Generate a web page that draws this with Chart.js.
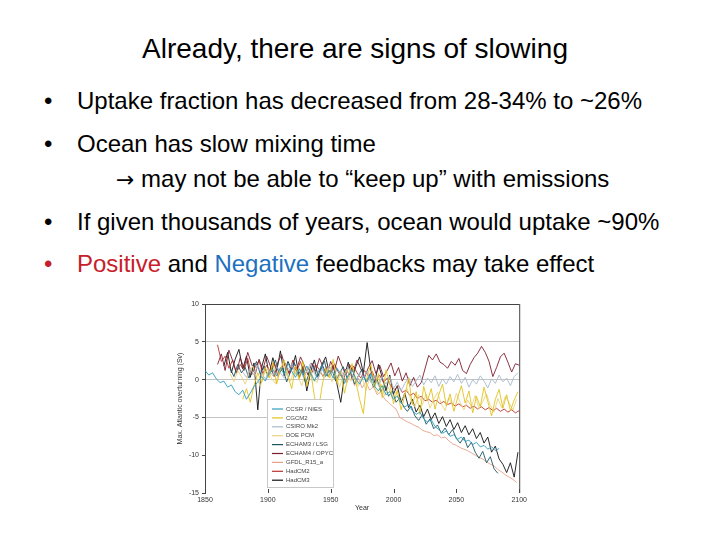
<!DOCTYPE html>
<html>
<head>
<meta charset="utf-8">
<script src="https://cdn.jsdelivr.net/npm/chart.js@4.4.1/dist/chart.umd.min.js"></script>
<style>
  body { margin: 0; width: 720px; height: 540px; background: #fff; position: relative; overflow: hidden;
         font-family: "Liberation Sans", Arial, sans-serif; color: #000; }
  .t { position: absolute; white-space: nowrap; line-height: 1; }
  #title { font-size: 28px; top: 35px; left: 0; width: 710px; text-align: center; }
  .b { font-size: 24px; }
  .arrow { font-family: "DejaVu Sans", sans-serif; font-size: 22px; }
  #chartBox { position: absolute; left: 150px; top: 294px; }
</style>
</head>
<body>
<div class="t" id="title">Already, there are signs of slowing</div>

<div class="t b" style="left:44px; top:89px">•</div>
<div class="t b" style="left:77px; top:89px">Uptake fraction has decreased from 28-34% to ~26%</div>

<div class="t b" style="left:44px; top:132px">•</div>
<div class="t b" style="left:77px; top:132px">Ocean has slow mixing time</div>
<div class="t b" style="left:116px; top:167px"><span class="arrow">→</span> may not be able to “keep up” with emissions</div>

<div class="t b" style="left:44px; top:210px">•</div>
<div class="t b" style="left:77px; top:210px">If given thousands of years, ocean would uptake ~90%</div>

<div class="t b" style="left:44px; top:252px; color:#c8202a">•</div>
<div class="t b" style="left:77px; top:252px"><span style="color:#c8202a">Positive</span> and <span style="color:#2070c0">Negative</span> feedbacks may take effect</div>

<div id="chartBox"><canvas id="thc" width="380" height="226"></canvas></div>

<script>
// model runs, one value every 3 years from each start year (Sv anomaly)
const modelNames = ['CCSR / NIES', 'CGCM2', 'CSIRO Mk2', 'DOE PCM', 'ECHAM3 / LSG',
                    'ECHAM4 / OPYC', 'GFDL_R15_a', 'HadCM2', 'HadCM3'];
const startYears = [1850, 1880, 1880, 1870, 1870, 1860, 1960, 1860, 1865];
const yearStep = 3;

const ccsrNies = [1.2, 0.6, 0.9, 0.1, -0.4, -0.2, -1.0, -0.7, -1.6, -2.0, -1.4, -2.6, -1.8, -0.9, -0.3, 0.4,
  -0.2, 0.8, 1.3, 0.5, 1.6, 0.7, 2.2, 1.1, 0.3, 1.4, 0.6, 1.8, 0.9, -0.2, 1.0, 1.9, 0.4, 1.2, 0.2, 1.5,
  0.8, -0.5, 0.6, 1.3, 0.1, -0.6, 0.4, -0.3, 0.8, -0.9, -1.5, -0.8, -2.0, -1.6, -2.6, -2.2, -3.1, -3.6,
  -3.3, -4.1, -4.6, -4.3, -5.2, -5.6, -5.3, -6.2, -6.6, -7.1, -6.8, -7.5, -7.3, -7.9, -7.6, -8.2, -8.0,
  -8.6, -8.3, -8.9, -8.7, -9.2, -8.9, -9.4, -9.1];
const cgcm2 = [-2.6, -1.2, -3.0, -0.8, 0.9, -0.4, 1.6, 0.2, 2.3, -0.6, 1.4, 2.6, 0.5, -1.2, 1.8, 0.1, 2.4,
  -0.9, 1.2, -2.2, -4.4, -1.0, 1.5, 0.2, 2.7, -0.5, 1.1, -1.8, 0.6, 2.1, -0.3, -2.6, -4.5, 0.4, 2.0, -1.1,
  0.8, -2.4, 1.3, -0.6, -3.2, -1.4, -4.0, -2.1, 0.2, -3.3, -1.6, -4.6, -0.9, -2.8, -1.2, -3.9, -2.0, -0.6,
  -3.5, -1.9, -4.2, -2.4, -0.8, -3.1, -1.5, -4.4, -2.2, -3.6, -1.0, -2.9, -4.8, -2.6, -1.3, -3.8, -2.0,
  -4.1, -2.7, -1.6];
const csiroMk2 = [1.0, 0.3, 1.4, 0.6, 1.9, 0.8, 0.1, 1.2, 0.5, 1.7, 0.9, 0.2, 1.3, 2.0, 0.7, 1.5, 0.4, 1.1,
  2.2, 0.8, 0.1, 1.4, 0.6, 1.8, 0.9, 0.3, 1.2, 0.5, 1.6, 0.7, -0.2, 0.9, 0.2, 1.1, -0.4, 0.5, -0.8, 0.3,
  -0.6, 0.4, -1.2, -0.3, -1.5, -0.5, 0.3, -0.9, -0.2, 0.6, -0.7, 0.2, -0.4, 0.5, -0.9, 0.1, -0.6, 0.4,
  -0.3, 0.7, -0.5, 0.3, -1.0, 0.0, -0.6, 0.5, -0.2, -1.1, 0.1, -0.5, 0.6, -0.3, 0.2, -0.8, 0.4, 0.9];
const doePcm = [0.8, -0.3, 1.2, 0.4, -0.6, 0.9, 1.8, 0.2, -0.9, 0.7, 1.5, 0.1, -0.5, 1.0, 2.1, 0.6, -0.2,
  1.3, 0.4, -0.8, 0.9, 1.7, 0.3, -0.4, 1.1, 0.2, 1.6, -0.3, 0.8, -1.0, 0.5, 1.4, -0.2, 0.7, -0.9, 0.3,
  -1.4, 0.1, -0.7, -1.8, -0.6, -2.1, -1.0, -2.5, -1.6, -3.0, -2.2, -1.2, -2.8, -3.6, -2.0, -3.3, -1.9,
  -3.8, -2.6, -1.7, -3.2, -4.1, -2.4, -3.5, -1.8, -3.0, -4.0, -2.7, -3.6, -2.1, -3.9, -2.9, -1.9, -3.4,
  -4.3, -2.5, -3.7, -2.2, -3.1, -4.0, -2.6];
const echam3Lsg = [1.5, 0.4, 2.0, 0.9, 1.6, 0.2, 1.3, 2.4, 0.7, 1.8, 0.5, 1.1, 2.6, 0.8, 1.5, -0.3, 1.0,
  2.2, 0.6, 1.4, -0.5, 0.9, 1.9, 0.3, 1.2, 2.5, 0.4, 1.3, -0.2, 0.8, 1.7, 0.2, 1.0, -0.6, 0.5, 1.4, -0.3,
  0.6, -1.0, 0.0, -1.6, -0.7, -2.2, -1.5, -3.0, -2.4, -3.6, -4.2, -3.5, -4.8, -5.4, -4.6, -5.9, -5.2,
  -6.5, -6.0, -7.1, -6.4, -7.3, -6.6, -7.8, -8.4, -7.6, -9.0, -8.3, -9.6, -10.4, -9.5, -11.0, -10.2,
  -11.8, -12.4];
const echam4Opyc = [2.0, 3.4, 1.2, 3.9, 2.5, 0.8, 2.9, 1.5, 3.6, 2.1, 0.7, 2.7, 1.3, 3.1, 1.8, 0.4, 2.3,
  3.3, 1.6, 0.9, 2.6, 1.4, 3.0, 1.9, 0.6, 2.2, 1.1, 2.8, 1.7, 0.5, 2.4, 1.2, 3.1, 1.8, 0.6, 2.0, 1.0, 2.6,
  1.4, 0.3, 1.6, 2.5, 0.8, 1.9, 0.4, 1.2, 2.2, 0.5, 1.6, -0.2, 0.9, -0.8, 0.3, -1.0, -0.4, 1.4, 3.2, 2.6,
  3.4, 2.3, 2.0, 1.5, 2.4, 1.9, 2.8, 1.2, 0.8, 2.0, 2.9, 3.5, 4.4, 3.6, 2.4, 0.4, 1.6, 3.0, 3.5, 2.3, 1.0,
  2.1, 1.9];
const gfdlR15 = [0.6, -0.4, 0.9, -0.8, 0.2, -1.1, -0.3, -1.4, -0.9, -2.0, -1.6, -2.6, -3.0, -3.5, -3.9,
  -5.0, -5.3, -5.6, -5.8, -6.1, -6.3, -6.7, -6.9, -7.0, -7.4, -7.3, -7.7, -7.6, -8.1, -8.5, -8.7, -9.0,
  -9.2, -9.4, -9.7, -10.0, -10.3, -10.5, -10.9, -11.2, -11.4, -11.9, -12.2, -12.6, -12.9, -13.2, -13.6];
const hadCm2 = [4.6, 2.4, 3.1, 1.5, 2.6, 0.9, 2.0, 1.2, 2.8, 0.6, 1.7, 2.5, 0.8, 1.9, 1.0, 2.3, 0.4, 1.6,
  2.2, 0.7, 1.8, 1.1, 2.4, 0.5, 1.5, 0.9, 2.0, 1.3, 0.4, 1.7, 0.8, 2.1, 1.0, 0.3, 1.4, 0.6, 1.8, 0.9, 0.2,
  1.2, 0.5, 1.1, -0.1, 0.6, -0.4, 0.2, -0.9, -1.3, -0.8, -1.7, -1.4, -2.1, -1.8, -2.5, -2.2, -2.8, -2.6,
  -3.0, -2.7, -3.2, -2.9, -3.3, -3.1, -3.5, -3.2, -3.6, -3.4, -3.8, -3.5, -3.9, -3.6, -4.0, -3.7, -4.1,
  -3.8, -4.2, -3.9, -4.3, -4.0, -4.4, -4.1];
const hadCm3 = [1.8, 3.6, 0.9, 2.7, 4.0, 1.4, 3.1, 0.3, 2.2, -4.0, 1.6, 3.4, 0.7, 2.9, 1.1, 3.8, 0.5, 2.4,
  1.3, 3.2, 0.2, 1.8, -1.5, 1.0, 2.6, 0.4, 2.0, 3.0, 0.8, 1.9, -0.6, -3.0, 0.5, 2.3, 0.1, 1.7, 3.0, 0.9,
  4.9, 1.2, -0.4, 2.0, 0.3, -1.5, 0.6, -1.9, -0.8, -3.0, -1.8, -3.7, -2.6, -4.3, -3.4, -4.9, -3.9, -5.3,
  -4.4, -5.8, -4.9, -6.2, -5.3, -6.6, -5.7, -7.0, -6.1, -7.3, -6.5, -7.8, -7.0, -8.4, -7.6, -9.6, -8.8,
  -10.5, -11.2, -12.3, -11.0, -12.9, -9.6];

const seriesValues = [ccsrNies, cgcm2, csiroMk2, doePcm, echam3Lsg, echam4Opyc, gfdlR15, hadCm2, hadCm3];
const modelColors = ['#2f9cbc', '#e2c21c', '#a9b9cd', '#ecd47e', '#1d5663',
                     '#7d1d2e', '#e6a088', '#b8332e', '#111111'];
const yearTicks = [1850, 1900, 1950, 2000, 2050, 2100];
const svTicks = [10, 5, 0, -5, -10, -15];

const datasets = modelNames.map((name, k) => ({
  label: name,
  data: seriesValues[k].map((v, i) => ({ x: startYears[k] + i * yearStep, y: v })),
  borderColor: modelColors[k],
  borderWidth: 0.9,
  pointRadius: 0,
  fill: false
}));

// frame on top/right, inner ticks on x, legend box inside the plot
const extras = {
  id: 'extras',
  afterDatasetsDraw(chart) {
    const { ctx, chartArea: a, scales } = chart;
    ctx.save();
    ctx.strokeStyle = '#444';
    ctx.lineWidth = 1;
    ctx.beginPath();
    ctx.moveTo(a.left, a.top + 0.5); ctx.lineTo(a.right, a.top + 0.5);
    ctx.moveTo(a.right + 0.5, a.top); ctx.lineTo(a.right + 0.5, a.bottom);
    yearTicks.forEach(yr => {
      const px = Math.round(scales.x.getPixelForValue(yr)) + 0.5;
      ctx.moveTo(px, a.bottom); ctx.lineTo(px, a.bottom - 4);
    });
    ctx.stroke();

    // legend
    const lx = a.left + 62, ly = a.top + 95, lw = 66, lh = 88;
    ctx.fillStyle = '#fff';
    ctx.fillRect(lx, ly, lw, lh);
    ctx.strokeStyle = '#bbb';
    ctx.lineWidth = 0.8;
    ctx.strokeRect(lx + 0.5, ly + 0.5, lw, lh);
    ctx.font = '6px "Liberation Sans", Arial, sans-serif';
    ctx.textBaseline = 'middle';
    chart.data.datasets.forEach((ds, i) => {
      const y = ly + 10 + i * 8.9;
      ctx.strokeStyle = ds.borderColor;
      ctx.lineWidth = 1.2;
      ctx.beginPath();
      ctx.moveTo(lx + 5, y); ctx.lineTo(lx + 16, y);
      ctx.stroke();
      ctx.fillStyle = '#444';
      ctx.fillText(ds.label, lx + 19, y);
    });
    ctx.restore();
  }
};

new Chart(document.getElementById('thc'), {
  type: 'line',
  data: { datasets: datasets },
  plugins: [extras],
  options: {
    responsive: false,
    animation: false,
    devicePixelRatio: 1,
    layout: { padding: { top: 10, right: 9, left: 0, bottom: 0 } },
    plugins: { legend: { display: false }, tooltip: { enabled: false } },
    scales: {
      x: {
        type: 'linear',
        min: 1850, max: 2100,
        afterBuildTicks: s => { s.ticks = yearTicks.map(v => ({ value: v })); },
        afterFit: s => { s.height = 27; },
        grid: { display: false, drawTicks: false },
        border: { display: false },
        ticks: { font: { size: 7 }, color: '#333', padding: 3, maxRotation: 0, callback: v => String(v) },
        title: { display: true, text: 'Year', font: { size: 7 }, color: '#333', padding: { top: 0, bottom: 8 } }
      },
      y: {
        min: -15, max: 10,
        afterBuildTicks: s => { s.ticks = svTicks.map(v => ({ value: v })); },
        afterFit: s => { s.width = 55; },
        grid: {
          color: c => (c.tick && [5, 0, -5].includes(c.tick.value)) ? '#c4c4c4' : 'rgba(0,0,0,0)',
          tickColor: '#444',
          tickLength: 3,
          lineWidth: 1
        },
        border: { display: true, color: '#444', width: 1 },
        ticks: { font: { size: 7 }, color: '#333', padding: 3 },
        title: { display: true, text: 'Max. Atlantic overturning (Sv)', font: { size: 7 }, color: '#333',
                 padding: { top: 26, bottom: 0 } }
      }
    }
  }
});
</script>
</body>
</html>
